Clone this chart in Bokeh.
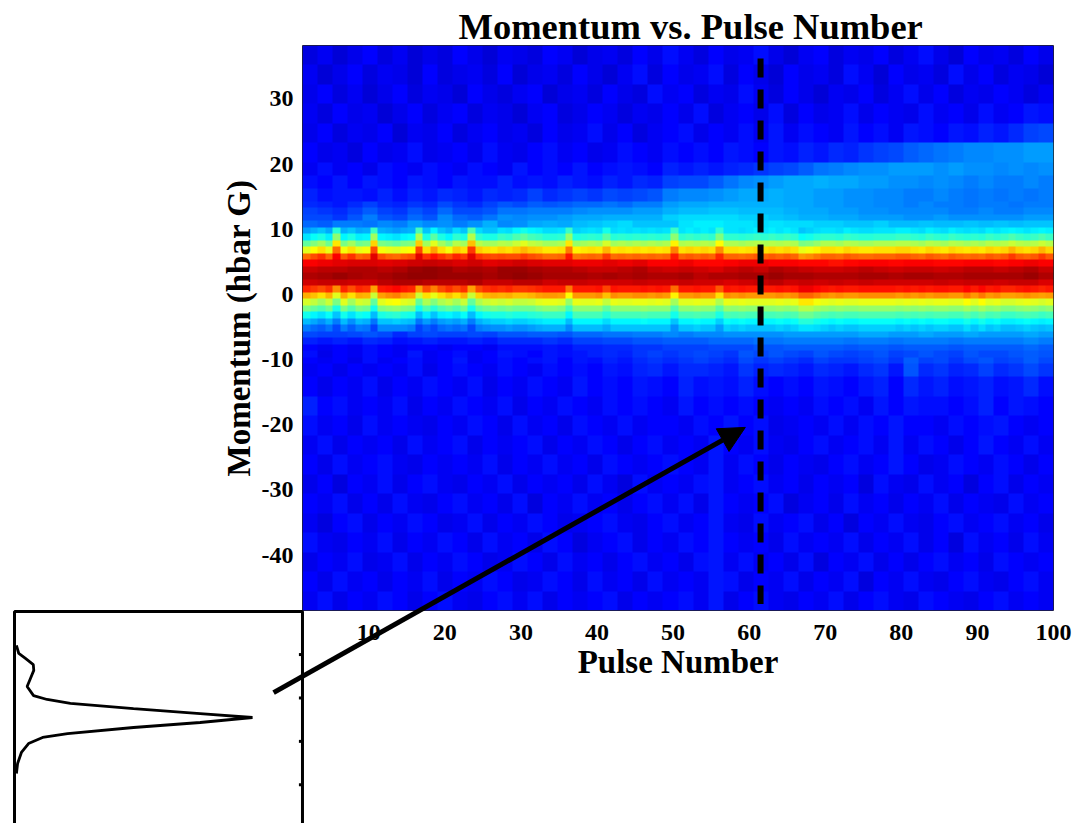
from bokeh.plotting import figure
from bokeh.embed import file_html
from bokeh.resources import INLINE
from bokeh.layouts import column
from bokeh.models import LinearColorMapper, Arrow, NormalHead, Range1d, FixedTicker
import numpy as np

TITLE = "Momentum vs. Pulse Number"
X_LABEL = "Pulse Number"
Y_LABEL = "Momentum (hbar G)"
x_ticks = [10, 20, 30, 40, 50, 60, 70, 80, 90, 100]
y_ticks = [-40, -30, -20, -10, 0, 10, 20, 30]
pulse_lim = (1.3, 100)
momentum_lim = (-48.5, 38.2)
marker_pulse = 61.5
marker_momentum = (36.2, -47.5)
arrow_from = (-2.5, -61.1)
arrow_to = (59.5, -20.4)

# Horizontal profile shown in the inset
inset_intensity = [.008, .018, .046, .079, .081, .067, .053, .08, .137, .235, .5, .78, 1, .78, .5, .223, .118, .059, .029, .013, .008]
inset_momentum = [36.2, 32.5, 30.2, 27.4, 24.7, 21, 17.3, 13.1, 11.3, 9.5, 7.1, 4.8, 3, .7, -1.6, -4.4, -6.2, -9, -13.1, -18.2, -22.8]
inset_ticks = [32, 12, -8, -28]
inset_box_x = [0, 0, 1.21, 1.21]
inset_box_y = [-50, 51.8, 51.8, -50]

# Heat-map rows, top to bottom: (rows of the grid covered, values across the pulses)
rows = [
 (3, [11,13,10,12,14,11,13,10,12,11,14,12,10,13,12,11,14,13,10,12,13,11,14,12,15,13,11,14,12,13,15,12,10,13,14,11,13,12,14,11,13,15,12,10,14,12,13,11,14,12]),
 (3, [13,10,12,14,11,13,12,10,14,11,12,13,11,14,10,12,13,11,14,12,10,13,15,11,14,12,13,15,11,14,12,10,14,12,13,11,15,13,10,14,12,13,11,15,12,14,11,13,12,10]),
 (3, [12,14,11,13,10,12,14,11,13,12,10,14,12,11,13,14,10,12,13,11,14,12,11,15,13,14,11,13,12,15,13,11,14,12,10,13,12,14,11,13,15,12,14,11,13,12,14,13,11,13]),
 (3, [13,11,14,12,13,10,12,14,11,13,14,11,13,12,10,13,14,11,12,14,13,11,13,12,14,12,15,11,13,14,12,15,11,14,12,13,15,12,14,13,12,15,13,14,12,15,13,14,16,15]),
 (3, [12,14,11,13,12,14,10,13,12,14,11,13,14,12,13,11,14,12,13,15,12,14,11,13,14,15,12,14,13,15,13,16,13,15,14,13,16,14,15,13,16,15,14,16,15,17,16,18,20,21]),
 (3, [14,12,13,11,14,12,13,15,12,13,14,12,15,13,12,14,15,13,14,12,13,15,14,13,15,14,15,14,16,15,14,16,15,17,16,18,17,19,20,21,23,24,25,26,27,27,28,28,29,29]),
 (2, [13,15,13,14,12,15,14,13,15,14,13,15,14,13,16,14,15,14,16,14,15,16,15,14,17,16,17,16,17,18,19,20,21,23,25,26,27,28,28,29,29,29,28,29,28,28,27,28,27,28]),
 (2, [15,14,16,14,16,15,14,16,15,14,16,15,15,17,15,16,15,17,16,15,17,16,18,17,20,21,21,23,25,27,28,29,30,30,31,30,30,29,29,28,28,27,28,27,26,27,26,26,27,26]),
 (2, [17,15,16,16,15,17,15,17,16,18,17,16,18,17,18,20,18,19,20,19,21,20,21,22,26,27,27,28,29,30,30,31,30,30,29,29,28,28,27,27,26,26,27,26,25,26,25,26,25,26]),
 (1, [18,17,16,18,20,18,17,19,18,21,19,18,20,22,21,23,22,23,24,24,25,24,26,26,29,30,30,31,31,31,31,31,30,30,29,29,28,28,27,27,26,27,26,26,25,26,26,25,26,26]),
 (1, [20,19,18,20,23,20,19,22,20,24,21,21,22,25,25,26,26,26,27,28,28,28,29,29,31,32,32,33,33,32,32,32,31,30,30,29,29,28,28,27,27,27,27,26,26,27,26,26,27,27]),
 (1, [21,21,19,22,26,22,21,24,22,27,24,23,25,28,27,28,28,29,30,30,31,31,31,31,34,35,35,35,35,34,34,33,32,31,31,30,30,29,29,29,28,28,29,28,28,28,28,28,29,29]),
 (1, [24,23,26,26,25,27,26,29,27,28,26,28,31,27,28,30,31,30,32,33,34,35,33,33,33,36,37,37,36,36,35,36,35,35,34,34,33,33,34,32,32,33,32,32,33,32,33,32,33,33]),
 (1, [29,31,33,30,42,31,33,30,31,44,31,30,29,30,31,45,33,38,33,31,35,33,46,35,33,33,36,35,38,40,38,37,35,35,36,44,34,35,36,35,40,35,36,35,36,35,36,35,36,44,36,37,36,37,36,43,36,36,35,36,37,36,37,36,37,36,33,34,35,36,36,35,37,36,35,35,36,36,36,37,37,36,35,37,36,35,37,36,35,36,35,37,36,37,38,37,36,37,38,37]),
 (1, [36,39,41,37,52,38,41,37,38,54,38,37,36,38,39,55,41,47,41,38,43,41,56,43,41,41,44,43,46,48,45,44,42,42,43,53,41,42,43,42,47,42,43,42,43,42,43,42,43,52,43,44,43,44,43,51,43,43,42,43,44,43,44,43,44,43,39,40,42,43,43,42,44,43,42,42,43,43,43,44,44,43,42,44,43,42,44,43,42,43,42,44,43,44,46,44,43,44,46,44]),
 (1, [48,51,54,49,65,50,54,49,50,67,50,49,48,50,51,68,54,60,54,50,56,54,69,56,54,54,56,55,58,60,57,56,54,54,55,65,53,54,55,54,59,54,55,54,55,54,55,54,55,64,55,56,55,56,55,63,55,55,54,55,56,55,56,55,56,55,50,51,53,55,55,54,56,55,54,54,55,55,55,56,56,55,54,56,55,54,56,55,54,55,54,56,55,56,58,56,55,56,58,56]),
 (1, [60,63,66,61,77,62,66,61,62,80,62,61,60,62,63,81,66,72,66,62,68,66,82,68,66,65,67,66,68,70,68,67,65,65,66,76,64,65,66,65,70,65,66,65,66,65,66,65,66,75,66,67,66,67,66,74,66,66,65,66,67,66,67,66,67,66,61,62,64,66,66,65,67,66,65,65,66,66,66,67,67,66,65,67,66,65,67,66,65,66,65,67,66,67,70,67,66,67,70,67]),
 (1, [77,80,83,78,88,79,83,78,79,90,80,78,77,79,80,90,83,86,83,80,84,82,90,83,81,80,81,80,80,82,80,79,77,77,78,86,76,77,78,77,82,77,78,77,78,77,78,77,78,85,78,79,78,79,78,84,78,78,77,78,79,78,79,78,79,78,73,74,76,78,78,77,79,78,77,77,78,78,78,79,79,78,77,79,78,77,79,78,77,78,77,79,78,79,82,79,78,79,82,79]),
 (1, [88,89,90,91,91,90,91,92,93,92,91,92,90,91,92,91,90,90,89,89,90,89,90,88,88,89,87,87,88,89,89,88,88,87,87,86,87,88,88,87,88,88,87,87,88,88,87,88,89,88]),
 (1, [93,94,94,95,95,94,95,97,98,97,95,96,95,97,97,96,95,95,94,93,93,94,95,93,92,93,92,91,93,94,93,95,94,93,92,92,93,94,93,92,93,93,92,93,94,94,93,94,95,93]),
 (1, [95,96,97,96,95,96,97,98,98,97,97,97,96,97,98,97,96,96,96,95,96,95,96,95,95,96,94,95,95,96,96,97,96,96,95,95,95,96,96,95,96,96,95,95,96,96,96,96,97,95]),
 (1, [92,93,93,92,92,94,95,95,94,94,94,95,93,93,94,94,92,93,93,92,92,92,93,92,92,93,92,92,91,92,93,94,92,93,92,93,92,93,92,92,92,92,93,92,93,93,92,93,93,91]),
 (1, [84,82,80,83,74,84,80,84,83,72,85,86,87,85,84,72,80,75,80,83,80,83,72,80,83,84,83,84,82,82,83,84,85,85,85,76,85,85,85,86,81,86,85,85,85,86,85,86,85,77,85,85,86,85,85,79,86,85,86,85,85,85,85,86,85,86,89,89,87,86,85,86,85,85,86,86,86,86,86,85,86,85,86,85,86,86,85,85,87,85,87,85,86,84,84,85,86,85,84,85]),
 (1, [71,69,66,70,60,71,66,71,70,58,72,74,75,72,71,58,66,61,66,69,66,70,58,67,70,71,70,71,69,69,70,72,73,73,72,63,73,73,73,74,69,74,73,73,74,74,73,74,73,64,73,73,74,73,73,66,74,73,74,73,73,73,73,74,73,74,78,78,76,74,73,74,73,73,74,74,74,74,74,73,74,73,74,73,74,74,73,73,76,73,76,73,74,72,72,73,74,73,72,73]),
 (1, [59,57,54,58,50,60,54,59,58,48,60,62,63,60,59,48,55,51,55,57,54,58,48,55,58,59,58,59,57,57,58,60,61,61,60,53,61,60,60,61,57,61,60,60,61,61,60,61,60,54,60,60,61,60,60,55,61,60,61,60,60,60,60,61,60,61,65,65,62,61,60,61,60,60,61,61,61,61,61,60,61,60,61,60,61,61,60,60,63,60,63,60,61,59,59,60,61,60,59,60]),
 (1, [50,48,46,49,41,50,46,50,49,40,51,52,53,51,50,40,46,42,46,48,46,49,40,47,49,50,49,50,49,49,49,51,52,52,51,45,52,52,52,52,48,52,52,52,52,53,52,52,52,46,52,52,53,52,52,47,53,52,53,52,52,52,52,53,52,53,56,56,54,53,52,53,52,52,53,53,53,53,53,52,53,52,53,52,53,53,52,52,54,52,54,52,53,51,51,52,53,52,51,52]),
 (1, [40,38,36,39,33,40,36,40,39,32,41,42,43,41,40,32,37,33,37,38,36,39,32,38,40,41,41,42,41,41,42,43,44,44,44,38,45,45,45,45,42,45,45,45,45,46,45,45,45,40,45,45,46,45,45,41,46,45,46,45,45,45,45,46,45,46,49,49,47,46,45,46,45,45,46,46,46,46,46,45,46,45,46,45,46,46,45,45,47,45,47,45,46,44,44,45,46,45,44,45]),
 (1, [32,30,28,31,26,32,28,32,31,25,33,33,34,33,32,25,29,26,29,30,29,31,26,31,33,34,34,35,34,34,35,36,37,37,37,32,38,38,38,38,35,38,38,38,38,39,38,38,38,33,38,38,39,38,38,34,39,38,39,38,38,38,38,39,38,39,42,42,40,39,38,39,38,38,39,39,39,39,39,38,39,38,39,38,39,39,38,38,40,38,40,38,39,37,37,38,39,38,37,38]),
 (1, [26,24,23,25,21,26,23,26,25,20,27,27,27,27,26,20,23,21,24,25,24,25,21,26,27,28,28,29,28,28,29,30,31,31,31,27,32,32,32,32,30,33,33,33,33,33,33,33,33,28,33,33,34,33,33,29,34,33,34,33,33,33,33,34,33,34,36,36,35,34,33,34,33,33,34,34,34,34,34,33,34,33,34,33,34,34,33,33,35,33,35,33,34,32,32,33,34,33,32,33]),
 (1, [21,20,20,21,22,21,18,20,21,20,20,21,20,22,22,23,23,22,24,24,25,25,26,26,27,26,27,27,28,28,28,28,29,29,29,29,29,30,30,29,29,30,29,29,30,29,29,29,30,29]),
 (1, [17,16,17,16,18,17,15,16,17,16,16,17,16,18,18,18,19,18,20,20,21,21,22,22,23,23,23,24,24,24,25,25,26,26,26,26,25,26,26,25,26,26,26,25,26,26,26,26,27,26]),
 (1, [14,13,14,13,15,14,13,14,14,13,14,14,13,15,15,15,16,15,17,17,18,18,19,19,20,20,20,21,21,21,22,22,23,23,23,23,22,23,23,22,23,23,23,22,23,23,23,23,24,23]),
 (1, [15,12,14,13,15,14,13,16,13,14,15,13,14,16,15,14,16,15,16,17,18,17,19,20,19,20,21,20,19,22,21,22,21,20,22,21,20,21,22,20,21,22,21,20,22,21,21,22,23,22]),
 (1, [14,13,14,12,15,13,14,15,13,14,16,13,14,15,14,15,16,14,16,15,17,16,18,19,18,19,20,19,18,21,19,20,19,18,20,19,19,20,21,19,23,20,21,19,21,22,20,21,23,21]),
 (2, [13,14,12,14,13,14,13,15,12,14,15,14,13,15,14,13,15,14,15,14,16,15,17,18,16,18,18,17,16,19,17,18,17,16,18,17,16,18,19,16,22,18,19,17,18,20,18,19,21,19]),
 (3, [14,12,14,13,15,12,14,13,15,14,13,15,12,14,13,15,14,13,16,14,15,14,16,15,14,17,15,16,15,17,15,14,15,14,16,15,14,16,17,14,18,16,17,15,16,17,15,16,18,15]),
 (3, [17,14,15,13,14,13,15,12,14,13,15,14,13,15,12,14,13,15,14,13,15,14,15,14,13,16,14,15,14,15,14,13,14,13,15,14,15,13,16,14,16,15,15,14,15,17,14,16,15,14]),
 (3, [15,13,14,12,15,13,14,13,12,14,13,15,14,12,15,13,14,12,15,14,13,15,13,14,14,13,15,14,16,14,15,12,13,14,13,15,13,15,14,16,14,14,13,15,14,15,16,14,13,14]),
 (3, [13,15,12,14,13,14,12,15,13,14,15,12,14,13,14,15,12,14,13,15,14,12,14,15,13,14,13,16,14,13,15,13,12,14,15,13,14,15,13,16,13,15,14,12,14,16,14,13,15,13]),
 (3, [14,12,15,13,14,15,13,12,14,13,14,13,15,12,14,13,15,13,14,12,15,14,13,14,15,14,13,16,13,15,14,12,14,13,12,14,15,13,14,16,14,12,13,15,14,13,15,14,12,14]),
 (3, [12,14,11,14,13,15,12,14,15,13,12,14,13,15,12,14,13,14,12,15,13,11,15,13,14,13,15,16,13,14,15,13,14,12,14,13,14,11,15,13,12,15,13,14,11,14,15,12,14,13]),
 (3, [14,13,15,12,14,12,15,13,12,14,15,13,14,12,15,11,14,13,15,13,14,12,14,15,13,15,12,16,14,13,14,15,11,13,14,12,15,13,14,12,14,13,15,12,14,13,12,15,13,14]),
 (3, [13,11,14,15,12,14,13,15,14,12,13,15,12,14,13,15,14,12,13,14,15,13,12,14,15,13,14,16,13,12,15,13,14,15,12,14,11,14,13,15,13,12,14,15,13,14,15,13,14,12]),
 (3, [15,13,12,14,13,15,12,14,13,15,14,12,15,13,14,12,15,14,11,13,14,15,12,14,13,15,14,16,14,13,14,12,15,13,14,13,15,12,14,13,15,12,14,11,15,13,14,12,15,13]),
 (3, [12,14,13,15,12,13,15,12,14,13,15,14,12,13,15,14,12,15,13,14,12,14,15,13,14,12,15,16,13,15,13,14,12,15,11,14,13,15,12,14,12,14,15,13,14,12,15,14,13,14]),
 (3, [14,12,15,13,14,12,14,13,15,12,14,13,15,14,12,13,15,14,12,15,13,14,12,15,13,14,13,16,15,12,14,13,15,12,14,13,15,11,14,13,15,13,12,14,15,13,12,14,15,13]),
 (3, [13,15,12,14,13,15,14,12,14,15,13,12,14,15,13,15,12,14,13,14,15,12,14,13,14,15,13,16,12,14,15,13,12,14,13,15,12,14,15,13,12,15,14,13,12,14,15,13,14,13]),
]

N_PULSES = 100
grid = []
for span, vals in rows:
    idx = np.arange(N_PULSES) * len(vals) // N_PULSES
    grid.extend([np.array(vals, dtype=float)[idx]] * span)
grid = np.array(grid)[::-1]

def jet(t):
    c = lambda d: np.clip(1.5 - abs(4 * t - d), 0, 1)
    return "#%02x%02x%02x" % (int(c(3) * 255), int(c(2) * 255), int(c(1) * 255))
palette = [jet(i / 255) for i in range(256)]
mapper = LinearColorMapper(palette=palette, low=1.5, high=100)

WIDTH, HEIGHT = 1073, 823
LEFT, RIGHT, TOP, BOTTOM = 302, 20, 45, 213
SERIF = "Liberation Serif"
p = figure(width=WIDTH, height=HEIGHT, toolbar_location=None, output_backend="svg",
           x_range=pulse_lim, y_range=momentum_lim,
           min_border_left=LEFT, min_border_right=RIGHT, min_border_top=TOP, min_border_bottom=BOTTOM,
           x_axis_label=X_LABEL, y_axis_label=Y_LABEL, title=TITLE)
p.frame_align = False
p.grid.visible = False
p.outline_line_color = "#222222"
p.outline_line_width = 1
p.title.text_font = SERIF
p.title.text_font_style = "bold"
p.title.text_font_size = "36.5px"
p.title.text_color = "black"
p.title.align = "left"
p.title.offset = 156
p.title.standoff = -3

p.image(image=[grid], x=pulse_lim[0], y=momentum_lim[0],
        dw=pulse_lim[1] - pulse_lim[0], dh=momentum_lim[1] - momentum_lim[0], color_mapper=mapper)

for ax, ticks in ((p.xaxis[0], x_ticks), (p.yaxis[0], y_ticks)):
    ax.ticker = FixedTicker(ticks=ticks)
    ax.axis_line_color = None
    ax.major_tick_line_color = None
    ax.minor_tick_line_color = None
    ax.major_label_text_font = SERIF
    ax.major_label_text_font_style = "bold"
    ax.major_label_text_font_size = "24px"
    ax.major_label_text_color = "black"
    ax.axis_label_text_font = SERIF
    ax.axis_label_text_font_style = "bold"
    ax.axis_label_text_font_size = "33px"
    ax.axis_label_text_color = "black"
p.yaxis[0].major_label_overrides = {t: str(t) for t in y_ticks}
p.xaxis[0].major_label_standoff = 8
p.xaxis[0].axis_label_standoff = 1
p.yaxis[0].major_label_standoff = 3
p.yaxis[0].axis_label_standoff = 2

p.segment(x0=[marker_pulse], y0=[marker_momentum[0]], x1=[marker_pulse], y1=[marker_momentum[1]],
          line_color="black", line_width=6, line_dash="19 12", line_cap="butt")

# A transparent figure over the whole canvas: its ranges continue the main scales outside
# the main frame, so the arrow and the inset can run beyond that frame.
fw, fh = WIDTH - LEFT - RIGHT, HEIGHT - TOP - BOTTOM
ux = (pulse_lim[1] - pulse_lim[0]) / fw
uy = (momentum_lim[1] - momentum_lim[0]) / fh
over = figure(width=WIDTH, height=HEIGHT, toolbar_location=None, output_backend="svg",
              x_range=Range1d(pulse_lim[0] - LEFT * ux, pulse_lim[1] + RIGHT * ux),
              y_range=Range1d(momentum_lim[0] - BOTTOM * uy, momentum_lim[1] + TOP * uy),
              x_axis_location=None, y_axis_location=None,
              min_border=0, background_fill_color=None, border_fill_color=None,
              outline_line_color=None)
over.frame_align = False
over.min_border_left = over.min_border_right = over.min_border_top = over.min_border_bottom = 0
over.grid.visible = False
over.margin = (-HEIGHT, 0, 0, 0)

over.add_layout(Arrow(x_start=arrow_from[0], y_start=arrow_from[1], x_end=arrow_to[0], y_end=arrow_to[1],
                      line_color="black", line_width=5,
                      end=NormalHead(size=26, fill_color="black", line_color="black")))

# The inset's own scales: intensity (peak = 1) and momentum
INSET_X0, INSET_XW = 14, 238
INSET_Y_PEAK, INSET_M_PEAK, INSET_YS = 717, 3, 2.17
over.extra_x_ranges["inset_x"] = Range1d(-INSET_X0 / INSET_XW, (WIDTH - INSET_X0) / INSET_XW)
over.extra_y_ranges["inset_y"] = Range1d(INSET_M_PEAK - (HEIGHT - INSET_Y_PEAK) / INSET_YS,
                                         INSET_M_PEAK + INSET_Y_PEAK / INSET_YS)
over.line(inset_box_x, inset_box_y, x_range_name="inset_x", y_range_name="inset_y",
          line_color="black", line_width=3)
over.line(inset_intensity, inset_momentum, x_range_name="inset_x", y_range_name="inset_y",
          line_color="black", line_width=2.8)
over.segment(x0=[1.195] * len(inset_ticks), y0=inset_ticks, x1=[1.21] * len(inset_ticks), y1=inset_ticks,
             x_range_name="inset_x", y_range_name="inset_y", line_color="black", line_width=3)

open("out.html", "w").write(file_html(column(p, over), INLINE))
